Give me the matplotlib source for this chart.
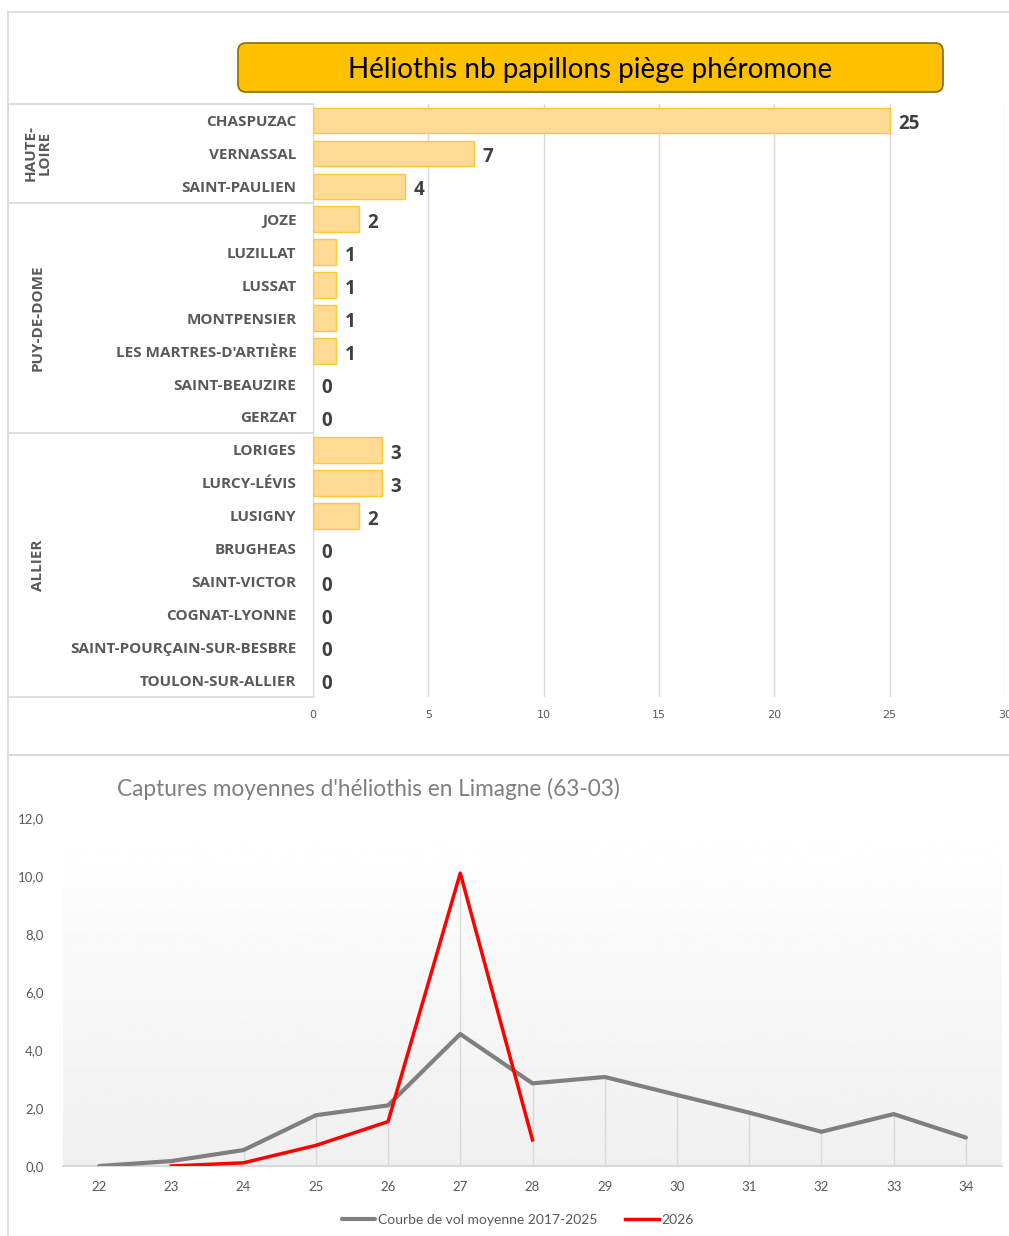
import matplotlib
matplotlib.use("Agg")
import matplotlib.pyplot as plt
import matplotlib.transforms as mtransforms
from matplotlib.patches import FancyBboxPatch
import numpy as np

# Données - graphique du haut (piège phéromone)
groupes = ["HAUTE-\nLOIRE", "PUY-DE-DOME", "ALLIER"]
communes_haute_loire = ["CHASPUZAC", "VERNASSAL", "SAINT-PAULIEN"]
communes_puy_de_dome = ["JOZE", "LUZILLAT", "LUSSAT", "MONTPENSIER",
                        "LES MARTRES-D'ARTIÈRE", "SAINT-BEAUZIRE", "GERZAT"]
communes_allier = ["LORIGES", "LURCY-LÉVIS", "LUSIGNY", "BRUGHEAS", "SAINT-VICTOR",
                   "COGNAT-LYONNE", "SAINT-POURÇAIN-SUR-BESBRE", "TOULON-SUR-ALLIER"]
papillons_haute_loire = [25, 7, 4]
papillons_puy_de_dome = [2, 1, 1, 1, 1, 0, 0]
papillons_allier = [3, 3, 2, 0, 0, 0, 0, 0]

# Données - graphique du bas (captures moyennes)
semaines = [22, 23, 24, 25, 26, 27, 28, 29, 30, 31, 32, 33, 34]
moyenne_2017_2025 = [0.0, 0.17, 0.55, 1.75, 2.09, 4.55, 2.85, 3.07, 2.45, 1.84, 1.18, 1.79, 0.98]
semaines_2026 = [23, 24, 25, 26, 27, 28]
captures_2026 = [0.0, 0.11, 0.71, 1.53, 10.1, 0.9]

W, H = 1009, 1236
fig = plt.figure(figsize=(W / 100, H / 100), dpi=100)

def box(x0, y0, x1, y1):
    # pixels (depuis le haut) -> fraction de figure
    return [x0 / W, 1 - y1 / H, (x1 - x0) / W, (y1 - y0) / H]

gris_clair = "#D9D9D9"
gris_texte = "#595959"

# Calque de décor en pixels
deco = fig.add_axes([0, 0, 1, 1], zorder=0)
deco.set_xlim(0, W)
deco.set_ylim(H, 0)
deco.axis("off")
deco.plot([8, W], [12, 12], color=gris_clair, lw=1.2)
deco.plot([8, 8], [12, 755], color=gris_clair, lw=1.2)
deco.plot([8, W], [755, 755], color=gris_clair, lw=1.5)
deco.plot([8, 8], [757, H], color=gris_clair, lw=1.2)
deco.add_patch(FancyBboxPatch((238, 43), 705, 49, boxstyle="round,pad=0,rounding_size=8",
                              facecolor="#FFC000", edgecolor="#8C6A00", lw=1.2))
deco.text(590, 70, "Héliothis nb papillons piège phéromone", ha="center", va="center",
          fontsize=20, family=["Lato", "DejaVu Sans"], color="black")

# Graphique du haut
communes = communes_haute_loire + communes_puy_de_dome + communes_allier
valeurs = papillons_haute_loire + papillons_puy_de_dome + papillons_allier
tailles = [len(communes_haute_loire), len(communes_puy_de_dome), len(communes_allier)]
pos = np.arange(len(communes))

ax = fig.add_axes(box(313, 104, 1005, 697), zorder=2)
ax.barh(pos, valeurs, height=0.78, color="#FFDA94", edgecolor="#FFC933",
        linewidth=[1 if v > 0 else 0 for v in valeurs], zorder=3)
ax.set_xlim(0, 30)
ax.set_ylim(len(communes) - 0.5, -0.5)
ax.set_xticks(range(0, 31, 5))
ax.grid(axis="x", color=gris_clair, lw=1, zorder=0)
ax.set_yticks(pos)
ax.set_yticklabels(communes, fontsize=11, fontweight="bold", color=gris_texte,
                   family=["Open Sans", "DejaVu Sans"], va="center_baseline")
ax.tick_params(axis="y", length=0, pad=12)
ax.tick_params(axis="x", length=0, pad=9, labelsize=8, labelcolor=gris_texte)
for lab in ax.get_xticklabels():
    lab.set_family(["Liberation Sans Narrow", "DejaVu Sans"])
for s in ["top", "right", "bottom"]:
    ax.spines[s].set_visible(False)
ax.spines["left"].set_color(gris_clair)
for y, v in zip(pos, valeurs):
    ax.annotate(str(v), (v, y), xytext=(6, -1), textcoords="offset points",
                va="center_baseline", ha="left", fontsize=13.5, fontweight="bold",
                color="#404040", family=["Open Sans", "DejaVu Sans"])

# Tableau des groupes à gauche
trans = mtransforms.blended_transform_factory(deco.transData, ax.transData)
bornes = np.concatenate([[0], np.cumsum(tailles)]) - 0.5
for b in bornes:
    deco.plot([8, 313], [b, b], color=gris_clair, lw=1.2, transform=trans, clip_on=False)
deco.plot([8, 8], [bornes[0], bornes[-1]], color=gris_clair, lw=1.2, transform=trans, clip_on=False)
for i, g in enumerate(groupes):
    centre = (bornes[i] + bornes[i + 1]) / 2
    deco.text(38, centre, g, rotation=90, ha="center", va="center", fontsize=11,
              fontweight="bold", color=gris_texte, transform=trans, linespacing=1.0,
              family=["Open Sans", "DejaVu Sans"])

# Graphique du bas
ax2 = fig.add_axes(box(63, 818, 1002, 1166), zorder=2)
degrade = np.linspace(1.0, 0.94, 256).reshape(-1, 1)
ax2.imshow(degrade, cmap="gray", vmin=0, vmax=1, aspect="auto",
           extent=[21.5, 34.5, 0, 12], zorder=0)
ax2.set_xlim(21.5, 34.5)
ax2.set_ylim(0, 12)

hauteur = dict(zip(semaines, moyenne_2017_2025))
for s, v in zip(semaines_2026, captures_2026):
    hauteur[s] = max(hauteur[s], v)
ax2.vlines(list(hauteur.keys()), 0, list(hauteur.values()), color=gris_clair, lw=1, zorder=1)

ax2.plot(semaines, moyenne_2017_2025, color="#7F7F7F", lw=3, zorder=3,
         label="Courbe de vol moyenne 2017-2025", solid_capstyle="round")
ax2.plot(semaines_2026, captures_2026, color="#FF0000", lw=2.5, zorder=4, label="2026")

ax2.set_xticks(semaines)
ax2.set_yticks(range(0, 13, 2))
ax2.set_yticklabels([f"{v:.1f}".replace(".", ",") for v in range(0, 13, 2)])
ax2.tick_params(axis="both", length=0, labelsize=9.5, labelcolor=gris_texte)
ax2.tick_params(axis="y", pad=14)
ax2.tick_params(axis="x", pad=11)
for lab in ax2.get_xticklabels() + ax2.get_yticklabels():
    lab.set_family(["Lato", "DejaVu Sans"])
for s in ["top", "right", "left"]:
    ax2.spines[s].set_visible(False)
ax2.spines["bottom"].set_color(gris_clair)
ax2.spines["bottom"].set_linewidth(1.5)

fig.text(117 / W, 1 - 789 / H, "Captures moyennes d'héliothis en Limagne (63-03)",
         ha="left", va="center", fontsize=16.3, color="#7F7F7F", family=["Lato", "DejaVu Sans"])

leg = fig.legend(*ax2.get_legend_handles_labels(), loc="center", ncol=2,
                 bbox_to_anchor=(518 / W, 1 - 1220 / H), frameon=False,
                 handlelength=2.4, handletextpad=0.2, columnspacing=2.0,
                 prop={"family": ["Lato", "DejaVu Sans"], "size": 10})
for t in leg.get_texts():
    t.set_color(gris_texte)

fig.savefig("out.png", dpi=100)
